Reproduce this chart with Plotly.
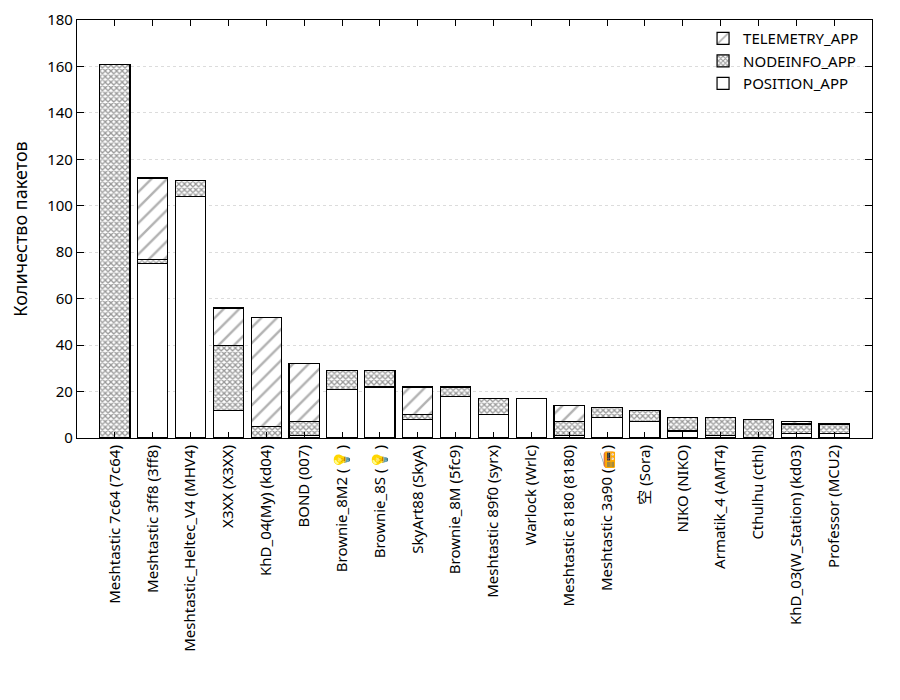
import plotly.graph_objects as go

# nodes, sorted by total packet count
nodes = [
    "Meshtastic 7c64 (7c64)", "Meshtastic 3ff8 (3ff8)", "Meshtastic_Heltec_V4 (MHV4)",
    "X3XX (X3XX)", "KhD_04(My) (kd04)", "BOND (007)", "Brownie_8M2 (💡)",
    "Brownie_8S (💡)", "SkyArt88 (SkyA)", "Brownie_8M (5fc9)", "Meshtastic 89f0 (syrx)",
    "Warlock (Wrlc)", "Meshtastic 8180 (8180)", "Meshtastic 3a90 (📻)", "空 (Sora)",
    "NIKO (NIKO)", "Armatik_4 (AMT4)", "Cthulhu (cthl)", "KhD_03(W_Station) (kd03)",
    "Professor (MCU2)",
]
position_app = [0, 75, 104, 12, 0, 1, 21, 22, 8, 18, 10, 17, 1, 9, 7, 3, 1, 0, 2, 2]
nodeinfo_app = [161, 2, 7, 28, 5, 6, 8, 7, 2, 4, 7, 0, 6, 4, 5, 6, 8, 8, 4, 4]
telemetry_app = [0, 35, 0, 16, 47, 25, 0, 0, 12, 0, 0, 0, 7, 0, 0, 0, 0, 0, 1, 0]

xpos = list(range(len(nodes)))
font = "Noto Sans, Open Sans, Noto Sans CJK SC, sans-serif"
edge = dict(color="black", width=1.2)


def nz(vals):
    # zero segments would draw an extra outline on top of the stack
    return [v if v else None for v in vals]


fig = go.Figure()
fig.add_trace(go.Bar(x=xpos, y=nz(position_app), name="POSITION_APP", width=0.8,
                     marker=dict(color="white", line=edge)))
fig.add_trace(go.Bar(x=xpos, y=nz(nodeinfo_app), name="NODEINFO_APP", width=0.8,
                     marker=dict(color="white", line=edge,
                                 pattern=dict(shape="x", size=4, solidity=0.55,
                                              fgcolor="#333333", bgcolor="white"))))
fig.add_trace(go.Bar(x=xpos, y=nz(telemetry_app), name="TELEMETRY_APP", width=0.8,
                     marker=dict(color="white", line=edge,
                                 pattern=dict(shape="/", size=11, solidity=0.22,
                                              fgcolor="#666666", bgcolor="white"))))

# page body has an 8px margin, so the margins are shifted by that much
fig.update_layout(
    barmode="stack",
    width=900, height=700,
    margin=dict(l=69, r=36, t=12, b=270, autoexpand=False),
    plot_bgcolor="white", paper_bgcolor="white",
    font=dict(family=font, size=15, color="black"),
    showlegend=True,
    legend=dict(traceorder="reversed", x=0.99, y=0.995, xanchor="right", yanchor="top",
                bgcolor="rgba(0,0,0,0)", font=dict(size=15), tracegroupgap=0,
                itemwidth=30),
)
fig.update_xaxes(
    range=[-1, 20], tickmode="array", tickvals=xpos, ticktext=nodes, tickangle=-90,
    showline=True, linecolor="black", linewidth=1.2, mirror="ticks", automargin=False,
    ticks="inside", ticklen=6, tickcolor="black", showgrid=False, zeroline=False,
)
fig.update_yaxes(
    range=[0, 180], dtick=20, title_text="Количество пакетов", automargin=False,
    title_standoff=14,
    showline=True, linecolor="black", linewidth=1.2, mirror="ticks",
    ticks="inside", ticklen=7, tickcolor="black",
    showgrid=True, gridcolor="#dcdcdc", griddash="dot", gridwidth=1, zeroline=False,
)

fig.write_html("out.html")
